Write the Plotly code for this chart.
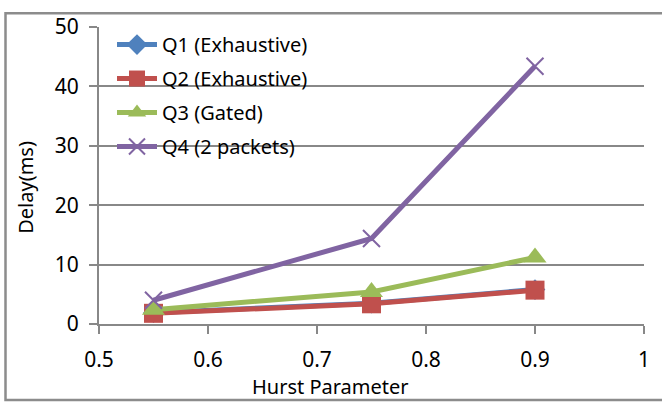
import plotly.graph_objects as go

hurst = [0.55, 0.75, 0.9]
q1 = [1.9, 3.5, 5.8]
q2 = [1.8, 3.4, 5.7]
q3 = [2.4, 5.4, 11.2]
q4 = [4.0, 14.4, 43.4]

names = ["Q1 (Exhaustive)", "Q2 (Exhaustive)", "Q3 (Gated)", "Q4 (2 packets)"]
colors = ["#4F81BD", "#C0504D", "#9BBB59", "#8064A2"]

W, H = 662, 403
L, R, T, B = 99, 644, 23, 324
pw, ph = R - L, B - T

def px(x):
    return (x - L) / pw

def py(y):
    return (B - y) / ph

FONT = "Noto Sans"
GRID = "#888888"

fig = go.Figure()
fig.add_trace(go.Scatter(x=hurst, y=q1, name=names[0], mode="lines+markers",
                         legendgroup="g1",
                         line=dict(color=colors[0], width=5),
                         marker=dict(symbol="diamond", size=16, color=colors[0])))
fig.add_trace(go.Scatter(x=hurst, y=q2, name=names[1], mode="lines+markers",
                         legendgroup="g2",
                         line=dict(color=colors[1], width=5),
                         marker=dict(symbol="square", size=19, color=colors[1])))
fig.add_trace(go.Scatter(x=hurst, y=q3, name=names[2], mode="lines+markers",
                         legendgroup="g3",
                         line=dict(color=colors[2], width=5),
                         marker=dict(symbol="triangle-up", size=20, color=colors[2])))
fig.add_trace(go.Scatter(x=hurst, y=q4, name=names[3], mode="lines+markers",
                         legendgroup="g4",
                         line=dict(color=colors[3], width=5),
                         marker=dict(symbol="x-thin-open", size=17,
                                     line=dict(color=colors[3], width=2), color=colors[3])))

fig.update_layout(
    width=W, height=H,
    margin=dict(l=L, r=W - R, t=T, b=H - B, pad=0),
    paper_bgcolor="white", plot_bgcolor="white",
    font=dict(family=FONT, size=20, color="black"),
    showlegend=True,
    legend=dict(x=px(112), y=py(21), xanchor="left", yanchor="top",
                bgcolor="rgba(0,0,0,0)", font=dict(family=FONT, size=20),
                itemwidth=40, tracegroupgap=5, traceorder="grouped"),
    xaxis=dict(range=[0.5, 1.0], tickvals=[0.5, 0.6, 0.7, 0.8, 0.9, 1.0],
               ticktext=["0.5", "0.6", "0.7", "0.8", "0.9", "1"],
               showgrid=False, zeroline=False, showline=True, linecolor=GRID,
               linewidth=2, ticks="outside", ticklen=8, tickcolor=GRID, tickwidth=2,
               tickfont=dict(size=21), ticklabelstandoff=8),
    yaxis=dict(range=[0, 50], tickvals=[0, 10, 20, 30, 40, 50],
               showgrid=True, gridcolor=GRID, gridwidth=1.5, zeroline=False,
               showline=True, linecolor=GRID, linewidth=2, ticks="outside",
               ticklen=8, tickcolor=GRID, tickwidth=2, tickfont=dict(size=21),
               ticklabelstandoff=6),
    annotations=[
        dict(text="Delay(ms)", xref="paper", yref="paper", x=px(26), y=py(186),
             showarrow=False, textangle=-90, font=dict(size=20),
             xanchor="center", yanchor="middle"),
        dict(text="Hurst Parameter", xref="paper", yref="paper", x=px(330), y=py(387),
             showarrow=False, font=dict(size=20), xanchor="center", yanchor="middle"),
    ],
    shapes=[
        dict(type="rect", xref="paper", yref="paper", x0=px(5.5), x1=px(670),
             y0=py(401), y1=py(9), line=dict(color="#8c8c8c", width=2.5),
             fillcolor="rgba(0,0,0,0)", layer="below"),
    ],
)

fig.write_html("out.html")
